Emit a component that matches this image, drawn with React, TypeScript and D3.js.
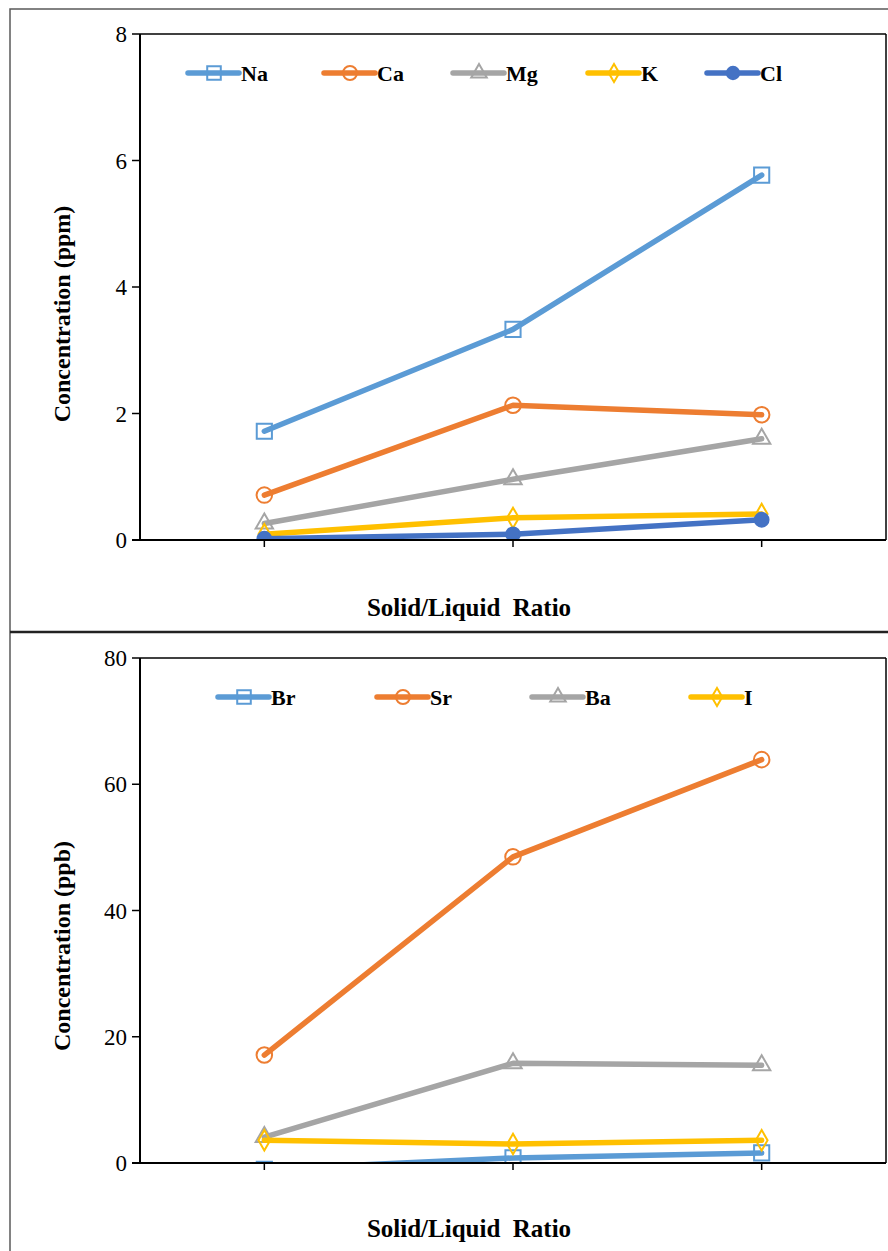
import React from "react";
import * as d3 from "d3";

const categories = ["Ratio 1", "Ratio 2", "Ratio 3"];

const topSeriesNames = ["Na", "Ca", "Mg", "K", "Cl"];
const naValues = [1.72, 3.33, 5.77];
const caValues = [0.71, 2.13, 1.98];
const mgValues = [0.26, 0.96, 1.6];
const kValues = [0.09, 0.35, 0.41];
const clValues = [0.02, 0.09, 0.32];
const topTicks = [0, 2, 4, 6, 8];

const bottomSeriesNames = ["Br", "Sr", "Ba", "I"];
const brValues = [-1.0, 0.8, 1.6];
const srValues = [17.1, 48.5, 63.9];
const baValues = [4.1, 15.8, 15.5];
const iValues = [3.6, 3.0, 3.6];
const bottomTicks = [0, 20, 40, 60, 80];

type Marker = "square" | "circle" | "triangle" | "diamond" | "dot";

interface Series {
  name: string;
  values: number[];
  color: string;
  marker: Marker;
}

const topSeries: Series[] = [
  { name: topSeriesNames[0], values: naValues, color: "#5B9BD5", marker: "square" },
  { name: topSeriesNames[1], values: caValues, color: "#ED7D31", marker: "circle" },
  { name: topSeriesNames[2], values: mgValues, color: "#A5A5A5", marker: "triangle" },
  { name: topSeriesNames[3], values: kValues, color: "#FFC000", marker: "diamond" },
  { name: topSeriesNames[4], values: clValues, color: "#4472C4", marker: "dot" },
];

const bottomSeries: Series[] = [
  { name: bottomSeriesNames[0], values: brValues, color: "#5B9BD5", marker: "square" },
  { name: bottomSeriesNames[1], values: srValues, color: "#ED7D31", marker: "circle" },
  { name: bottomSeriesNames[2], values: baValues, color: "#A5A5A5", marker: "triangle" },
  { name: bottomSeriesNames[3], values: iValues, color: "#FFC000", marker: "diamond" },
];

const FONT = "'Liberation Serif', 'Times New Roman', serif";

function markerPath(m: Marker, scale = 1): string {
  const typeMap: Record<Marker, d3.SymbolType> = {
    square: d3.symbolSquare,
    circle: d3.symbolCircle,
    triangle: d3.symbolTriangle,
    diamond: d3.symbolDiamond,
    dot: d3.symbolCircle,
  };
  const sizeMap: Record<Marker, number> = {
    square: 230,
    circle: 190,
    triangle: 130,
    diamond: 120,
    dot: 150,
  };
  return d3.symbol().type(typeMap[m]).size(sizeMap[m] * scale)() || "";
}

interface PanelProps {
  id: string;
  series: Series[];
  ticks: number[];
  yMax: number;
  top: number;
  bottom: number;
  legendY: number;
  legendX: number[];
  yTitle: string;
  yTitleY: number;
  xTitleY: number;
}

function Panel(p: PanelProps) {
  const left = 140;
  const right = 886;
  const x = d3.scalePoint<string>().domain(categories).range([left, right]).padding(0.5);
  const y = d3.scaleLinear().domain([0, p.yMax]).range([p.bottom, p.top]);
  const line = d3
    .line<number>()
    .x((_, i) => x(categories[i]) as number)
    .y((d) => y(d));
  const clipId = `clip-${p.id}`;
  return (
    <g>
      <defs>
        <clipPath id={clipId}>
          <rect x={left} y={p.top - 10} width={right - left + 10} height={p.bottom - p.top + 10} />
        </clipPath>
      </defs>
      <line x1={left} x2={right} y1={p.top} y2={p.top} stroke="#000" strokeWidth={1.5} />
      <line x1={right} x2={right} y1={p.top} y2={p.bottom} stroke="#000" strokeWidth={1.5} />
      {p.ticks.map((t) => (
        <g key={t}>
          <line x1={left - 8} x2={left} y1={y(t)} y2={y(t)} stroke="#000" strokeWidth={1.5} />
          <text
            x={left - 13}
            y={y(t)}
            dy="0.35em"
            textAnchor="end"
            fontFamily={FONT}
            fontSize={23}
            fill="#000"
          >
            {t}
          </text>
        </g>
      ))}
      {categories.map((c) => (
        <line key={c} x1={x(c)} x2={x(c)} y1={p.bottom} y2={p.bottom + 7} stroke="#000" strokeWidth={1.5} />
      ))}
      <g clipPath={`url(#${clipId})`}>
        {p.series.map((s) => (
          <g key={s.name}>
            <path d={line(s.values) || ""} fill="none" stroke={s.color} strokeWidth={5.5} strokeLinejoin="round" strokeLinecap="round" />
            {s.values.map((v, i) => (
              <path
                key={i}
                d={markerPath(s.marker)}
                transform={`translate(${x(categories[i])},${y(v)})`}
                fill={s.marker === "dot" ? s.color : "none"}
                stroke={s.color}
                strokeWidth={2}
              />
            ))}
          </g>
        ))}
      </g>
      <line x1={left} x2={left} y1={p.top} y2={p.bottom} stroke="#000" strokeWidth={2} />
      <line x1={left - 8} x2={right} y1={p.bottom} y2={p.bottom} stroke="#000" strokeWidth={2} />
      {p.series.map((s, i) => {
        const lx = p.legendX[i];
        return (
          <g key={s.name} transform={`translate(${lx},${p.legendY})`}>
            <line x1={0} x2={51} y1={0} y2={0} stroke={s.color} strokeWidth={5.5} strokeLinecap="round" />
            <path
              d={markerPath(s.marker, 0.8)}
              transform="translate(26,0)"
              fill={s.marker === "dot" ? s.color : "none"}
              stroke={s.color}
              strokeWidth={2}
            />
            <text x={53} y={0} dy="0.35em" fontFamily={FONT} fontWeight="bold" fontSize={22} fill="#000">
              {s.name}
            </text>
          </g>
        );
      })}
      <text
        transform={`translate(62,${p.yTitleY}) rotate(-90)`}
        textAnchor="middle"
        dy="0.35em"
        fontFamily={FONT}
        fontWeight="bold"
        fontSize={24}
        fill="#000"
      >
        {p.yTitle}
      </text>
      <text
        x={469}
        y={p.xTitleY}
        dy="0.35em"
        textAnchor="middle"
        fontFamily={FONT}
        fontWeight="bold"
        fontSize={25}
        fill="#000"
        style={{ whiteSpace: "pre" }}
      >
        {"Solid/Liquid  Ratio"}
      </text>
    </g>
  );
}

export default function App() {
  return (
    <svg
      width={888}
      height={1251}
      style={{ position: "absolute", left: 0, top: 0, background: "#fff" }}
    >
      <rect x={0} y={0} width={888} height={1251} fill="#fff" />
      <rect x={10} y={9} width={900} height={1300} fill="none" stroke="#595959" strokeWidth={1.5} />
      <line x1={10} x2={888} y1={632} y2={632} stroke="#222" strokeWidth={2.5} />
      <Panel
        id="top"
        series={topSeries}
        ticks={topTicks}
        yMax={8}
        top={34}
        bottom={540}
        legendY={73}
        legendX={[188, 324, 453, 588, 707]}
        yTitle="Concentration (ppm)"
        yTitleY={314}
        xTitleY={607}
      />
      <Panel
        id="bottom"
        series={bottomSeries}
        ticks={bottomTicks}
        yMax={80}
        top={658}
        bottom={1163}
        legendY={697}
        legendX={[218, 377, 532, 691]}
        yTitle="Concentration (ppb)"
        yTitleY={946}
        xTitleY={1228}
      />
    </svg>
  );
}
